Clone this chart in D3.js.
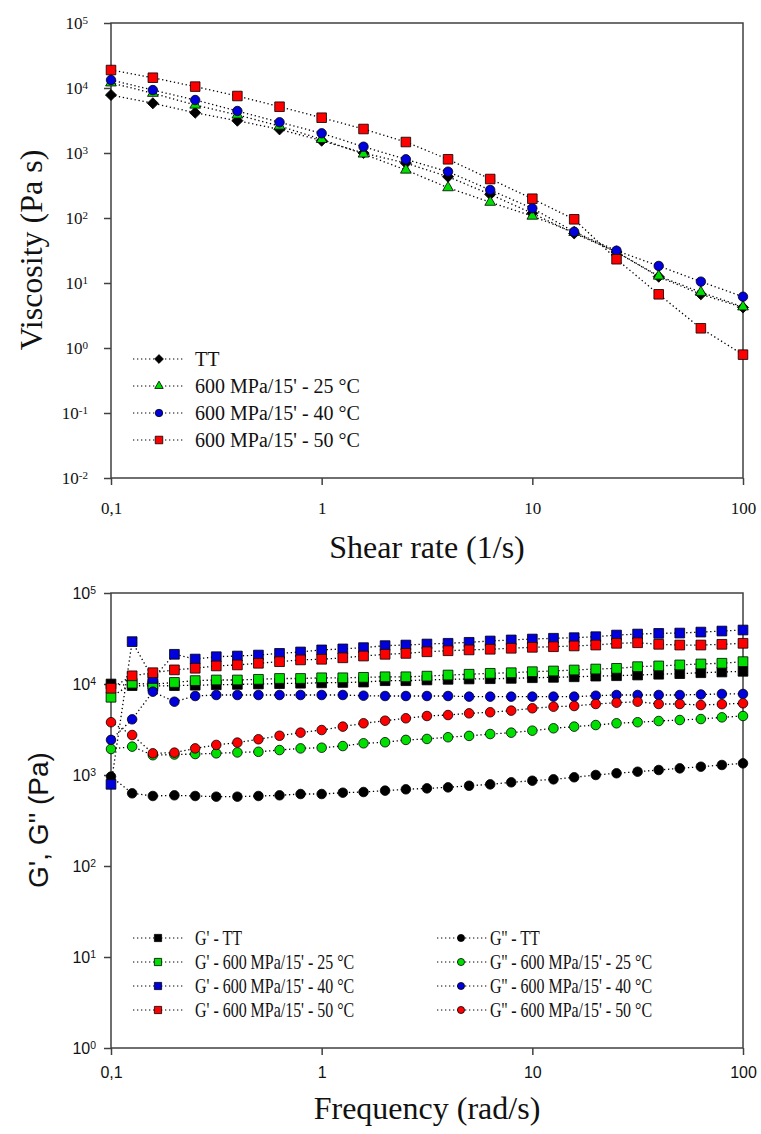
<!DOCTYPE html>
<html>
<head>
<meta charset="utf-8">
<script src="https://cdn.jsdelivr.net/npm/d3@7"></script>
<style>
  body { margin: 0; background: #fff; }
  svg { display: block; }
</style>
</head>
<body>
<svg id="chart" width="761" height="1134"></svg>
<script>
// ---- top panel: viscosity vs shear rate ----
const shearRate = [0.1, 0.158, 0.251, 0.398, 0.631, 1, 1.58, 2.51, 3.98, 6.31, 10, 15.8, 25.1, 39.8, 63.1, 100];
const viscTT = [7800, 5820, 4170, 3140, 2310, 1550, 1000, 700, 432, 231, 118, 58, 30, 12.5, 6.7, 4.2];
const visc25 = [12000, 8300, 5470, 3850, 2600, 1620, 966, 547, 293, 175, 107, 60, 30, 12.8, 7.2, 4.3];
const visc40 = [13270, 9300, 6530, 4430, 2970, 2010, 1250, 800, 516, 270, 141, 61.5, 31.4, 18.3, 10.5, 6.15];
const visc50 = [18900, 14400, 10500, 7530, 5150, 3490, 2340, 1475, 800, 398, 198, 95.5, 23.2, 6.7, 2.01, 0.79];
const viscNames = ["TT", "600 MPa/15' - 25 °C", "600 MPa/15' - 40 °C", "600 MPa/15' - 50 °C"];

// ---- bottom panel: G', G'' vs frequency ----
const freq = [0.1, 0.126, 0.158, 0.2, 0.251, 0.316, 0.398, 0.501, 0.631, 0.794, 1, 1.26, 1.58, 2, 2.51, 3.16,
  3.98, 5.01, 6.31, 7.94, 10, 12.6, 15.8, 20, 25.1, 31.6, 39.8, 50.1, 63.1, 79.4, 100];
const gpTT = [10000, 9600, 9500, 9600, 9700, 9800, 9900, 10000, 10100, 10200, 10300, 10400, 10500, 10870, 10870, 11070,
  11250, 11350, 11430, 11530, 11720, 11830, 12000, 12200, 12330, 12550, 12800, 13000, 13300, 13550, 13780];
const gp25 = [7150, 10200, 9930, 10400, 10900, 11070, 11070, 11250, 11500, 11500, 11700, 11700, 11830, 12000, 12000, 12200,
  12550, 12800, 13100, 13300, 13650, 13900, 14250, 14600, 14850, 15500, 15800, 16200, 16600, 16900, 17600];
const gp40 = [790, 29200, 11500, 21200, 18800, 19950, 20300, 20800, 21700, 22500, 23700, 24300, 25100, 26400, 26800, 27500,
  28000, 28700, 29700, 30500, 31200, 31800, 32300, 33100, 34500, 35400, 36000, 36300, 37200, 38200, 39200];
const gp50 = [8980, 12300, 13300, 14300, 14900, 15800, 16200, 16900, 17600, 18400, 18700, 19400, 20300, 21200, 21700, 22600,
  23200, 23700, 24100, 24700, 25300, 25700, 26200, 26800, 28000, 28400, 27300, 26800, 26800, 27300, 28000];
const gppTT = [960, 629, 588, 598, 588, 578, 578, 588, 598, 618, 618, 639, 650, 673, 696, 713,
  731, 762, 789, 831, 865, 896, 944, 1000, 1045, 1087, 1135, 1183, 1233, 1288, 1343];
const gpp25 = [1930, 2050, 1650, 1680, 1700, 1730, 1770, 1800, 1880, 1960, 1995, 2080, 2230, 2290, 2430, 2490,
  2600, 2690, 2820, 2920, 3070, 3260, 3400, 3540, 3700, 3800, 3920, 4020, 4120, 4300, 4450];
const gpp40 = [2430, 4090, 8230, 6390, 7380, 7570, 7570, 7570, 7570, 7570, 7570, 7570, 7440, 7380, 7380, 7380,
  7380, 7260, 7260, 7260, 7260, 7260, 7260, 7440, 7570, 7570, 7570, 7570, 7670, 7770, 7770];
const gpp50 = [3800, 2750, 1730, 1760, 1960, 2140, 2270, 2470, 2700, 2920, 3120, 3400, 3700, 3950, 4200, 4450,
  4560, 4760, 4890, 5100, 5410, 5630, 5730, 6030, 6230, 6390, 6030, 6030, 5870, 6000, 6140];
const modNames = ["TT", "600 MPa/15' - 25 °C", "600 MPa/15' - 40 °C", "600 MPa/15' - 50 °C"];

const xTicks = [0.1, 1, 10, 100];
const xTickLabels = ["0,1", "1", "10", "100"];
const yTicksTop = [1e-2, 1e-1, 1, 10, 100, 1e3, 1e4, 1e5];
const yTicksBot = [1, 10, 100, 1e3, 1e4, 1e5];

const RED = "#ff0000", GREEN = "#00e000", BLUE = "#0000dd", BLACK = "#000";
const SERIF = "'Liberation Serif', 'Times New Roman', serif";
const SANS = "'Liberation Sans', Arial, sans-serif";
const AXIS = "#404040";

var svg = d3.select("#chart");

const LEFT = 111, RIGHT = 743;
var x = d3.scaleLog().domain([0.1, 100]).range([LEFT, RIGHT]);
var yTop = d3.scaleLog().domain([1e-2, 1e5]).range([478, 23]);
var yBot = d3.scaleLog().domain([1, 1e5]).range([1048, 593]);

var sym = {
  square: d3.symbol().type(d3.symbolSquare),
  circle: d3.symbol().type(d3.symbolCircle),
  triangle: d3.symbol().type(d3.symbolTriangle),
  diamond: d3.symbol().type(d3.symbolSquare)
};

var marker = (g, shape, size, color, cx, cy) => {
  g.append("path")
    .attr("d", sym[shape].size(size)())
    .attr("transform", `translate(${cx},${cy})` + (shape == "diamond" ? " rotate(45)" : ""))
    .attr("fill", color)
    .attr("stroke", "#000")
    .attr("stroke-width", 0.8);
}

var drawAxes = (y, yTicks, tickFont, tickSize, yPad, xPad) => {
  var [y0, y1] = y.range();
  var g = svg.append("g");

  var ya = g.append("g").attr("transform", `translate(${LEFT},0)`)
    .call(d3.axisLeft(y).tickValues(yTicks).tickSize(7).tickSizeOuter(0).tickPadding(yPad));
  var xa = g.append("g").attr("transform", `translate(0,${y0})`)
    .call(d3.axisBottom(x).tickValues(xTicks).tickSize(7).tickSizeOuter(0).tickPadding(xPad)
      .tickFormat((d, i) => xTickLabels[i]));

  [ya, xa].forEach(a => {
    a.select(".domain").remove();
    a.attr("font-family", tickFont).attr("font-size", tickSize);
    a.selectAll(".tick line").attr("stroke", AXIS).attr("stroke-width", 1.5);
    a.selectAll(".tick text").attr("fill", "#111");
  });

  ya.selectAll(".tick text").text(null).each(function(d) {
    var t = d3.select(this);
    t.append("tspan").text("10");
    t.append("tspan").attr("dy", "-0.45em").attr("font-size", "0.65em").text(Math.round(Math.log10(d)));
  });

  g.append("rect")
    .attr("x", LEFT).attr("y", y1)
    .attr("width", RIGHT - LEFT).attr("height", y0 - y1)
    .attr("fill", "none").attr("stroke", AXIS).attr("stroke-width", 1.5);
}

var drawSeries = (y, xs, ys, shape, size, color) => {
  var pts = xs.map((d, i) => [x(d), y(ys[i])]);
  var g = svg.append("g");
  g.append("path")
    .attr("d", d3.line()(pts))
    .attr("fill", "none")
    .attr("stroke", "#000")
    .attr("stroke-width", 1.3)
    .attr("stroke-dasharray", "1.3,2.7");
  pts.forEach(p => marker(g, shape, size, color, p[0], p[1]));
}

var legendRow = (x0, x1, mx, tx, ty, shape, size, color, label, font, fsize, squeeze) => {
  var g = svg.append("g");
  g.append("line").attr("x1", x0).attr("x2", x1).attr("y1", ty).attr("y2", ty)
    .attr("stroke", "#000").attr("stroke-width", 1.2).attr("stroke-dasharray", "1.3,2.7");
  marker(g, shape, size, color, mx, ty);
  g.append("text")
    .attr("transform", `translate(${tx},${ty}) scale(${squeeze},1)`)
    .attr("dy", "0.35em")
    .attr("font-family", font).attr("font-size", fsize).attr("fill", "#111")
    .text(label);
}

// ===== top panel =====
drawAxes(yTop, yTicksTop, SERIF, 17, 16, 17);

var topSeries = [
  [viscTT, "diamond", 62, BLACK],
  [visc25, "triangle", 50, GREEN],
  [visc40, "circle", 70, BLUE],
  [visc50, "square", 92, RED]
];
topSeries.forEach(s => drawSeries(yTop, shearRate, s[0], s[1], s[2], s[3]));

var topLegendY = [359, 386, 413, 440];
topSeries.forEach((s, i) => legendRow(133, 184, 159, 195, topLegendY[i], s[1], s[2] * 0.62, s[3], viscNames[i], SERIF, 20, 1));

svg.append("text")
  .attr("transform", "translate(42,250) rotate(-90)")
  .attr("text-anchor", "middle")
  .attr("font-family", SERIF).attr("font-size", 32).attr("fill", "#111")
  .text("Viscosity (Pa s)");
svg.append("text")
  .attr("x", (LEFT + RIGHT) / 2).attr("y", 558)
  .attr("text-anchor", "middle")
  .attr("font-family", SERIF).attr("font-size", 32).attr("fill", "#111")
  .text("Shear rate (1/s)");

// ===== bottom panel =====
drawAxes(yBot, yTicksBot, SANS, 16, 8, 12);

var botSeries = [
  [gpTT, "square", 95, BLACK, "G' - "],
  [gppTT, "circle", 72, BLACK, "G'' - "],
  [gp25, "square", 95, GREEN, "G' - "],
  [gpp25, "circle", 72, GREEN, "G'' - "],
  [gp40, "square", 95, BLUE, "G' - "],
  [gpp40, "circle", 72, BLUE, "G'' - "],
  [gp50, "square", 95, RED, "G' - "],
  [gpp50, "circle", 72, RED, "G'' - "]
];
botSeries.forEach(s => drawSeries(yBot, freq, s[0], s[1], s[2], s[3]));

var botLegendY = [938, 962, 986, 1010];
botSeries.forEach((s, i) => {
  var row = Math.floor(i / 2), col = i % 2;
  var lx = col == 0 ? [133, 184, 158, 195] : [437, 488, 461, 490];
  legendRow(lx[0], lx[1], lx[2], lx[3], botLegendY[row], s[1], s[2] * 0.55, s[3], s[4] + modNames[row], SERIF, 21, 0.76);
});

svg.append("text")
  .attr("transform", "translate(48,820) rotate(-90)")
  .attr("text-anchor", "middle")
  .attr("font-family", SANS).attr("font-size", 28).attr("fill", "#111")
  .text("G', G'' (Pa)");
svg.append("text")
  .attr("x", (LEFT + RIGHT) / 2).attr("y", 1119)
  .attr("text-anchor", "middle")
  .attr("font-family", SERIF).attr("font-size", 32).attr("fill", "#111")
  .text("Frequency (rad/s)");
</script>
</body>
</html>
